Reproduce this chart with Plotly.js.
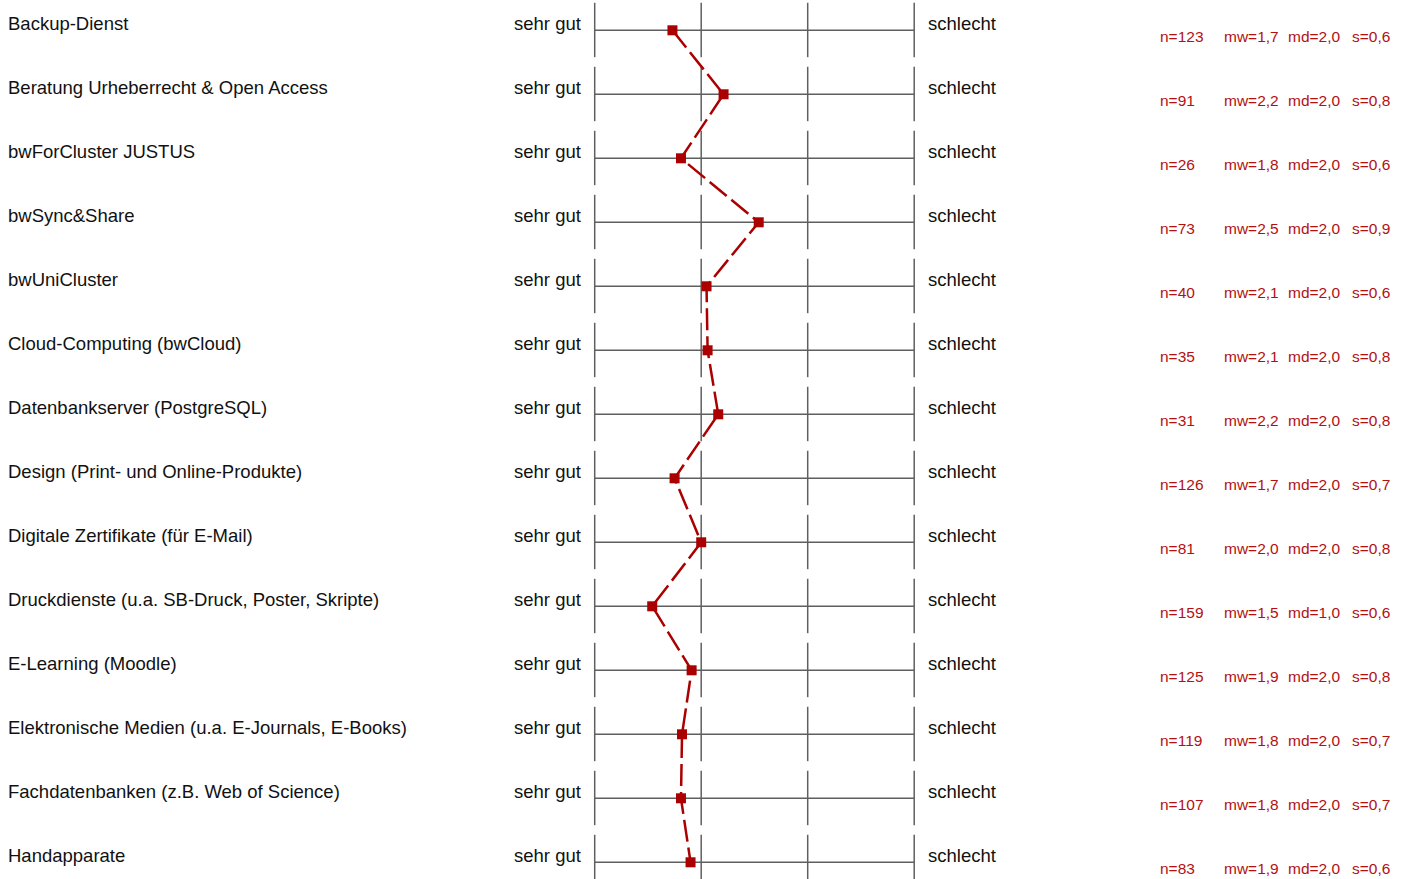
<!DOCTYPE html>
<html>
<head>
<meta charset="utf-8">
<script src="https://cdn.plot.ly/plotly-3.0.1.min.js"></script>
<style>html,body{margin:0;padding:0;background:#fff;}#chart{width:1409px;height:879px;}</style>
</head>
<body>
<div id="chart"></div>
<script>
const labels = [
  "Backup-Dienst",
  "Beratung Urheberrecht & Open Access",
  "bwForCluster JUSTUS",
  "bwSync&Share",
  "bwUniCluster",
  "Cloud-Computing (bwCloud)",
  "Datenbankserver (PostgreSQL)",
  "Design (Print- und Online-Produkte)",
  "Digitale Zertifikate (für E-Mail)",
  "Druckdienste (u.a. SB-Druck, Poster, Skripte)",
  "E-Learning (Moodle)",
  "Elektronische Medien (u.a. E-Journals, E-Books)",
  "Fachdatenbanken (z.B. Web of Science)",
  "Handapparate"
];
const means = [1.73, 2.21, 1.81, 2.54, 2.05, 2.06, 2.16, 1.75, 2.00, 1.54, 1.91, 1.82, 1.81, 1.90];
const nVals = [123, 91, 26, 73, 40, 35, 31, 126, 81, 159, 125, 119, 107, 83];
const mwVals = ["1,7","2,2","1,8","2,5","2,1","2,1","2,2","1,7","2,0","1,5","1,9","1,8","1,8","1,9"];
const mdVals = ["2,0","2,0","2,0","2,0","2,0","2,0","2,0","2,0","2,0","1,0","2,0","2,0","2,0","2,0"];
const sVals = ["0,6","0,8","0,6","0,9","0,6","0,8","0,8","0,7","0,8","0,6","0,8","0,7","0,7","0,6"];
const leftPole = "sehr gut";
const rightPole = "schlecht";
const scaleTicks = [1, 2, 3, 4];

const W = 1409, H = 879;
const pxPerUnit = 106.5;
const x0px = 594.7;
const xmin = 1 - x0px / pxPerUnit;
const xmax = xmin + W / pxPerUnit;
const rowPitch = 64, row0 = 30.3;
const ytop = -row0 / rowPitch;
const ybot = (H - row0) / rowPitch;

const rows = labels.map((_, i) => i);
const FONT = "Liberation Sans, Arial, sans-serif";
const gridColor = "#5f5f5f";
const red = "#aa0000";
const textRed = "#b41010";

const shapes = [];
const annotations = [];
rows.forEach(i => {
  shapes.push({type: "line", layer: "below", xref: "x", yref: "y", x0: scaleTicks[0], x1: scaleTicks[scaleTicks.length-1], y0: i, y1: i,
    line: {color: gridColor, width: 1.5}});
  scaleTicks.forEach(t => {
    shapes.push({type: "line", layer: "below", xref: "x", yref: "y", x0: t, x1: t, y0: i - 0.43, y1: i + 0.42,
      line: {color: gridColor, width: 1.5}});
  });
  const big = {family: FONT, size: 18.5, color: "#111"};
  annotations.push({xref: "paper", yref: "y", x: 6 / W, y: i, xanchor: "left", yanchor: "middle", yshift: 7,
    text: labels[i], showarrow: false, font: big});
  annotations.push({xref: "paper", yref: "y", x: 583 / W, y: i, xanchor: "right", yanchor: "middle", yshift: 7,
    text: leftPole, showarrow: false, font: big});
  annotations.push({xref: "paper", yref: "y", x: 926 / W, y: i, xanchor: "left", yanchor: "middle", yshift: 7,
    text: rightPole, showarrow: false, font: big});
  const small = {family: FONT, size: 15.5, color: textRed};
  const stats = [["n=" + nVals[i], 1158], ["mw=" + mwVals[i], 1222], ["md=" + mdVals[i], 1286], ["s=" + sVals[i], 1350]];
  stats.forEach(([t, px]) => {
    annotations.push({xref: "paper", yref: "y", x: px / W, y: i, xanchor: "left", yanchor: "middle", yshift: -6,
      text: t, showarrow: false, font: small});
  });
});

const trace = {
  x: means, y: rows, type: "scatter", mode: "lines+markers",
  line: {color: red, width: 2.5, dash: "22px,6px"},
  marker: {symbol: "square", size: 10, color: red, line: {width: 0}},
  hoverinfo: "skip"
};

const layout = {
  width: W, height: H,
  margin: {l: 0, r: 0, t: 0, b: 0, pad: 0},
  paper_bgcolor: "#fff", plot_bgcolor: "#fff",
  showlegend: false,
  xaxis: {range: [xmin, xmax], visible: false, fixedrange: true},
  yaxis: {range: [ybot, ytop], visible: false, fixedrange: true},
  shapes: shapes,
  annotations: annotations
};

Plotly.newPlot("chart", [trace], layout, {staticPlot: true, displayModeBar: false});
</script>
</body>
</html>
